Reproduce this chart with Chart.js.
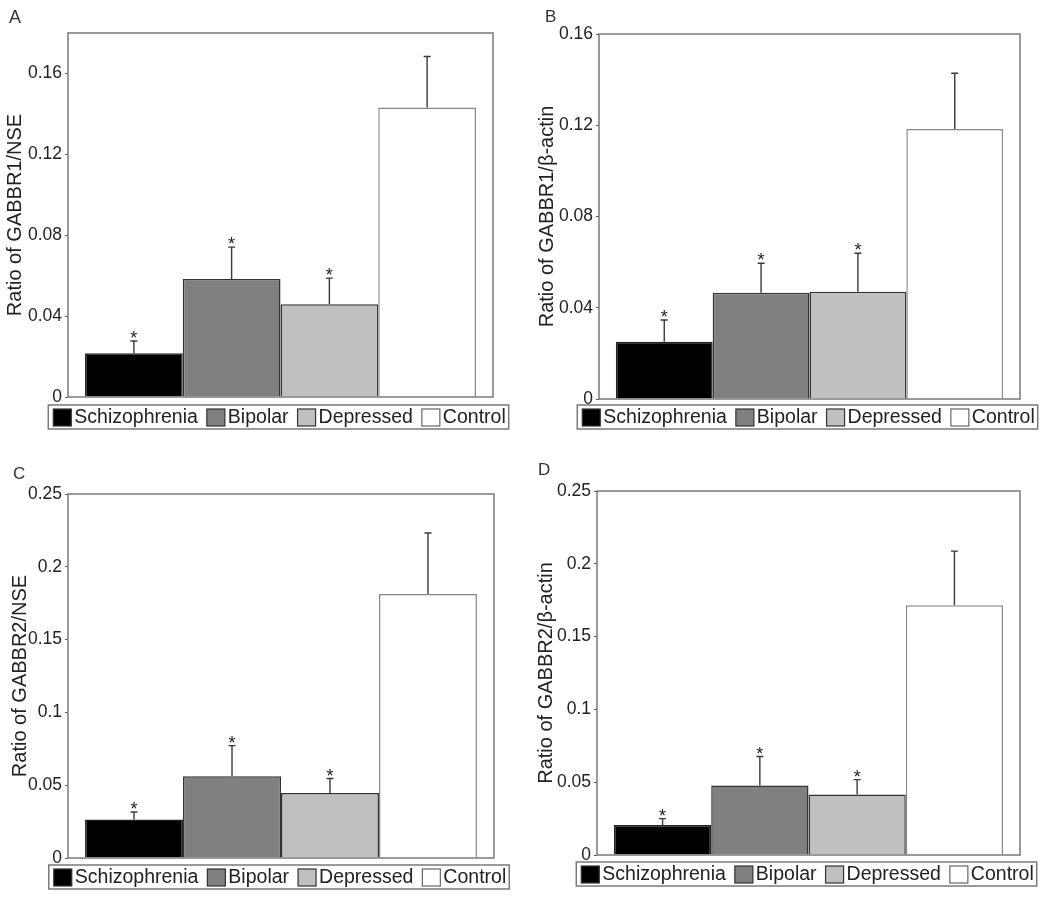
<!DOCTYPE html>
<html><head><meta charset="utf-8">
<script src="https://cdn.jsdelivr.net/npm/chart.js@4.4.0/dist/chart.umd.min.js"></script>
<style>
html,body{margin:0;padding:0;background:#fff;}
#fig{position:relative;width:1050px;height:897px;overflow:hidden;font-family:"Liberation Sans",Arial,sans-serif;}
.panel{position:absolute;}
.panel canvas{display:block;}
.letter{position:absolute;color:#333;line-height:1;}
</style></head><body>
<div id="fig">
  <div class="panel" style="left:0;top:0"><canvas id="cA" width="520" height="440"></canvas></div>
  <div class="panel" style="left:520px;top:0"><canvas id="cB" width="530" height="440"></canvas></div>
  <div class="panel" style="left:0;top:440px"><canvas id="cC" width="520" height="457"></canvas></div>
  <div class="panel" style="left:520px;top:440px"><canvas id="cD" width="530" height="457"></canvas></div>
  <div class="letter" style="left:9px;top:8px;font-size:18px">A</div>
  <div class="letter" style="left:545px;top:8px;font-size:17px">B</div>
  <div class="letter" style="left:13px;top:465px;font-size:17px">C</div>
  <div class="letter" style="left:538px;top:461px;font-size:17px">D</div>
</div>
<script>
// ---- data ----
const groups = ['Schizophrenia', 'Bipolar', 'Depressed', 'Control'];
const starred = [true, true, true, false];

const meanA = [0.0216, 0.0583, 0.0459, 0.1432];
const seA   = [0.0061, 0.0158, 0.0129, 0.0252];
const meanB = [0.0251, 0.0466, 0.0470, 0.1184];
const seB   = [0.0095, 0.0129, 0.0169, 0.0244];
const meanC = [0.0264, 0.0561, 0.0447, 0.1814];
const seC   = [0.0052, 0.0211, 0.0099, 0.0418];
const meanD = [0.0206, 0.0477, 0.0415, 0.1716];
const seD   = [0.0044, 0.0199, 0.0103, 0.0371];

const ticksR1 = [0, 0.04, 0.08, 0.12, 0.16];
const tickLabelsR1 = ['0', '0.04', '0.08', '0.12', '0.16'];
const ticksR2 = [0, 0.05, 0.1, 0.15, 0.2, 0.25];
const tickLabelsR2 = ['0', '0.05', '0.1', '0.15', '0.2', '0.25'];

const titleA = 'Ratio of GABBR1/NSE';
const titleB = 'Ratio of GABBR1/\u03B2-actin';
const titleC = 'Ratio of GABBR2/NSE';
const titleD = 'Ratio of GABBR2/\u03B2-actin';

// ---- styles ----
const FAMILY = '"Liberation Sans", Arial, sans-serif';
const fillColors = ['#000000', '#808080', '#c0c0c0', '#ffffff'];
const edgeColors = ['#222222', '#333333', '#333333', '#888888'];
const TEXT = '#222222';
const FRAME = '#7a7a7a';

Chart.defaults.font.family = FAMILY;

const framePlugin = {
  id: 'frame',
  afterDatasetsDraw(chart) {
    const a = chart.chartArea, c = chart.ctx;
    c.save();
    c.strokeStyle = FRAME; c.lineWidth = 1.5;
    c.strokeRect(a.left, a.top, a.right - a.left, a.bottom - a.top);
    c.restore();
  }
};

function errorPlugin(means, ses) {
  return {
    id: 'errbars',
    afterDatasetsDraw(chart) {
      const c = chart.ctx, y = chart.scales.y;
      c.save();
      chart.data.datasets.forEach((ds, i) => {
        const el = chart.getDatasetMeta(i).data[0];
        const x = el.x;
        const yTop = y.getPixelForValue(means[i]);
        const yErr = y.getPixelForValue(means[i] + ses[i]);
        c.strokeStyle = '#3a3a3a'; c.lineWidth = 1.4;
        c.beginPath();
        c.moveTo(x, yTop); c.lineTo(x, yErr);
        c.moveTo(x - 3.5, yErr); c.lineTo(x + 3.5, yErr);
        c.stroke();
        if (starred[i]) {
          c.fillStyle = TEXT;
          c.font = '18px ' + FAMILY;
          c.textAlign = 'center'; c.textBaseline = 'alphabetic';
          c.fillText('*', x, yErr + 3);
        }
      });
      c.restore();
    }
  };
}

function legendPlugin(gap) {
  return {
    id: 'boxlegend',
    afterDraw(chart) {
      const c = chart.ctx, a = chart.chartArea;
      c.save();
      c.font = '19.5px ' + FAMILY;
      const items = chart.data.datasets.map(d => ({label: d.label, w: c.measureText(d.label).width,
        fill: d.backgroundColor, edge: d.borderColor}));
      const sw = 18, sh = 17, tgap = 3, igap = 9, padL = 5, padR = 3, h = 24;
      let total = padL + padR + igap * (items.length - 1);
      items.forEach(it => total += sw + tgap + it.w);
      const left = (a.left + a.right) / 2 - 2 - total / 2;
      const top = a.bottom + gap;
      c.strokeStyle = FRAME; c.lineWidth = 1.5;
      c.strokeRect(left, top, total, h);
      let x = left + padL;
      items.forEach(it => {
        c.fillStyle = it.fill;
        c.fillRect(x, top + 4, sw, sh);
        c.strokeStyle = it.edge === '#888888' ? '#666' : '#333'; c.lineWidth = 1.2;
        c.strokeRect(x, top + 4, sw, sh);
        c.fillStyle = TEXT; c.textAlign = 'left'; c.textBaseline = 'middle';
        c.fillText(it.label, x + sw + tgap, top + h / 2 + 1);
        x += sw + tgap + it.w + igap;
      });
      c.restore();
    }
  };
}

function makePanel(id, p) {
  const datasets = groups.map((g, i) => ({
    label: g,
    data: [p.means[i]],
    backgroundColor: fillColors[i],
    borderColor: edgeColors[i],
    borderWidth: 1.5,
    borderSkipped: 'bottom',
    categoryPercentage: 0.92,
    barPercentage: 1
  }));
  new Chart(document.getElementById(id), {
    type: 'bar',
    data: {labels: [''], datasets},
    options: {
      responsive: false,
      animation: false,
      layout: {padding: {left: 0, right: p.padR, top: p.padT, bottom: p.padB}},
      plugins: {legend: {display: false}, tooltip: {enabled: false}},
      scales: {
        x: {display: false},
        y: {
          min: 0, max: p.max,
          afterFit(s) { s.width = p.axisW; },
          afterBuildTicks(s) { s.ticks = p.ticks.map(v => ({value: v})); },
          ticks: {callback: (v, i) => p.tickLabels[i], font: {size: 17.5, family: FAMILY}, color: TEXT, padding: 3},
          grid: {display: true, drawOnChartArea: false, drawTicks: true, tickLength: 3, color: '#555', lineWidth: 1},
          border: {display: false},
          title: {display: true, text: p.title, font: {size: 20, family: FAMILY}, color: TEXT,
                  padding: {top: p.titlePad, bottom: 0}}
        }
      }
    },
    plugins: [framePlugin, errorPlugin(p.means, p.ses), legendPlugin(p.legendGap)]
  });
}

makePanel('cA', {means: meanA, ses: seA, max: 0.18, ticks: ticksR1, tickLabels: tickLabelsR1, title: titleA,
  axisW: 68, padR: 27, padT: 33, padB: 43, titlePad: 3, legendGap: 8});
makePanel('cB', {means: meanB, ses: seB, max: 0.16, ticks: ticksR1, tickLabels: tickLabelsR1, title: titleB,
  axisW: 79, padR: 30, padT: 34, padB: 41, titlePad: 15, legendGap: 6});
makePanel('cC', {means: meanC, ses: seC, max: 0.25, ticks: ticksR2, tickLabels: tickLabelsR2, title: titleC,
  axisW: 68, padR: 26, padT: 54, padB: 39, titlePad: 8, legendGap: 7});
makePanel('cD', {means: meanD, ses: seD, max: 0.25, ticks: ticksR2, tickLabels: tickLabelsR2, title: titleD,
  axisW: 77, padR: 30, padT: 51, padB: 42, titlePad: 14, legendGap: 7});
</script>
</body></html>
